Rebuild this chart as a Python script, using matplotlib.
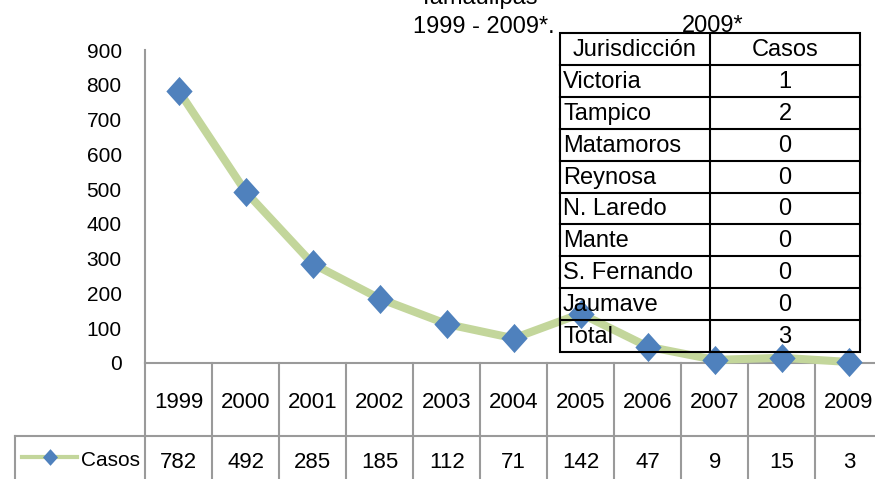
import numpy as np
import matplotlib.pyplot as plt
from matplotlib.lines import Line2D
from matplotlib.patches import Rectangle
import matplotlib.transforms as mtransforms

plt.rcParams['font.family'] = ['Liberation Sans', 'DejaVu Sans']

years = ['1999', '2000', '2001', '2002', '2003', '2004', '2005', '2006', '2007', '2008', '2009']
casos = [782, 492, 285, 185, 112, 71, 142, 47, 9, 15, 3]

jurisdicciones = ['Victoria', 'Tampico', 'Matamoros', 'Reynosa', 'N. Laredo',
                  'Mante', 'S. Fernando', 'Jaumave', 'Total']
casos_2009 = [1, 2, 0, 0, 0, 0, 0, 0, 3]

W, H = 875, 479
def fx(x):
    return x / W
def fy(y):
    return 1 - y / H

green = '#C3D69B'
blue = '#4F81BD'
grid_gray = '#9A9A9A'

diamond = [(0, 1), (0.9, 0), (0, -1), (-0.9, 0), (0, 1)]

fig = plt.figure(figsize=(8.75, 4.79), dpi=100)
ax = fig.add_axes([fx(145.3), fy(363), 737 / W, (363 - 50) / H])

x = np.arange(len(years))
ax.plot(x, casos, color=green, lw=5.8, marker=diamond, ms=21,
        mfc=blue, mec=blue, mew=0, solid_capstyle='round', clip_on=False, zorder=3)

ax.set_xlim(-0.5, len(years) - 0.5)
ax.set_ylim(0, 900)
ax.set_yticks(np.arange(0, 901, 100))
ax.set_xticks([])
ax.tick_params(axis='y', length=0, pad=17, labelsize=15)
for s in ['top', 'right']:
    ax.spines[s].set_visible(False)
ax.spines['left'].set_color(grid_gray)
ax.spines['left'].set_linewidth(1.5)
ax.spines['bottom'].set_color(grid_gray)
ax.spines['bottom'].set_linewidth(1.5)

# data table under the axis
trans = mtransforms.blended_transform_factory(ax.transData, fig.transFigure)
for i, (yr, v) in enumerate(zip(years, casos)):
    ax.text(i, fy(403), yr, transform=trans, ha='center', va='center',
            fontsize=16, clip_on=False)
    ax.text(i, fy(462), str(v), transform=trans, ha='center', va='center',
            fontsize=16, clip_on=False)
for i in range(len(years) + 1):
    ax.add_line(Line2D([i - 0.5, i - 0.5], [fy(363), 0], transform=trans,
                       color=grid_gray, lw=1.5, clip_on=False))
fig.add_artist(Line2D([fx(15), 1], [fy(436), fy(436)], color=grid_gray, lw=1.5))
fig.add_artist(Line2D([fx(15), fx(15)], [fy(436), 0], color=grid_gray, lw=1.5))

# legend key
fig.add_artist(Line2D([fx(22), fx(77)], [fy(457), fy(457)], color=green, lw=3))
fig.add_artist(Line2D([fx(50)], [fy(457)], marker=diamond, ms=12, mfc=blue,
                      mec=blue, mew=0, ls='none'))
fig.text(fx(81), fy(460), 'Casos', ha='left', va='center', fontsize=15)

# titles
fig.text(fx(478), fy(4), 'Tamaulipas', ha='center', va='baseline', fontsize=17)
fig.text(fx(484), fy(33), '1999 - 2009*.', ha='center', va='baseline', fontsize=17)
fig.text(fx(713), fy(32), '2009*', ha='center', va='baseline', fontsize=17)

# jurisdiction table
left, mid, right, top, bottom = 560, 710, 860, 33, 352
rh = (bottom - top) / (len(jurisdicciones) + 1)
fig.add_artist(Rectangle((fx(left), fy(bottom)), fx(right) - fx(left), fy(top) - fy(bottom),
                         fill=False, ec='black', lw=1.5, zorder=5))
fig.add_artist(Line2D([fx(mid), fx(mid)], [fy(top), fy(bottom)], color='black', lw=1.5, zorder=5))
for r in range(1, len(jurisdicciones) + 1):
    yy = top + r * rh
    fig.add_artist(Line2D([fx(left), fx(right)], [fy(yy), fy(yy)], color='black', lw=1.5, zorder=5))
fig.text(fx((left + mid) / 2), fy(top + rh / 2 + 1), 'Jurisdicción', ha='center', va='center',
         fontsize=17, zorder=6)
fig.text(fx((mid + right) / 2), fy(top + rh / 2 + 1), 'Casos', ha='center', va='center',
         fontsize=17, zorder=6)
for r, (name, val) in enumerate(zip(jurisdicciones, casos_2009), start=1):
    yc = top + (r + 0.5) * rh + 1
    fig.text(fx(left + 3), fy(yc), name, ha='left', va='center', fontsize=17, zorder=6)
    fig.text(fx((mid + right) / 2), fy(yc), str(val), ha='center', va='center',
             fontsize=17, zorder=6)

fig.savefig('out.png', dpi=100)
